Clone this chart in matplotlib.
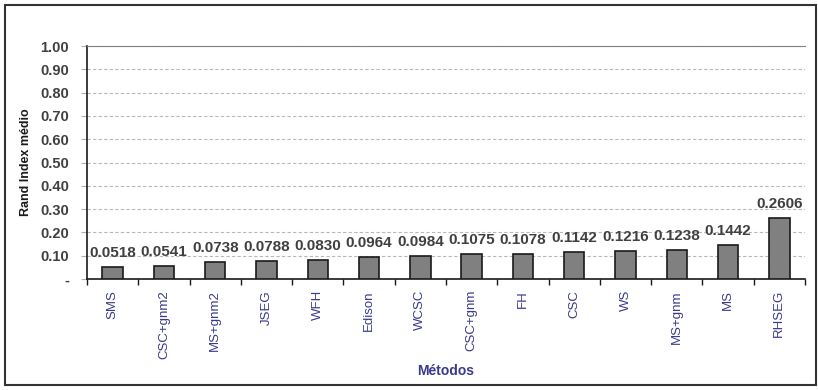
import matplotlib
matplotlib.use("Agg")
import matplotlib.pyplot as plt
from matplotlib.patches import Rectangle
from matplotlib.ticker import FixedLocator

# datos de la grafica
metodos = ['SMS', 'CSC+gnm2', 'MS+gnm2', 'JSEG', 'WFH', 'Edison', 'WCSC',
           'CSC+gnm', 'FH', 'CSC', 'WS', 'MS+gnm', 'MS', 'RHSEG']
rand_index = [0.0518, 0.0541, 0.0738, 0.0788, 0.0830, 0.0964, 0.0984,
              0.1075, 0.1078, 0.1142, 0.1216, 0.1238, 0.1442, 0.2606]
y_ticks = [0.0, 0.1, 0.2, 0.3, 0.4, 0.5, 0.6, 0.7, 0.8, 0.9, 1.0]
y_tick_labels = ['-', '0.10', '0.20', '0.30', '0.40', '0.50', '0.60',
                 '0.70', '0.80', '0.90', '1.00']

plt.rcParams['font.family'] = ['Liberation Sans', 'DejaVu Sans']

fig = plt.figure(figsize=(8.18, 3.9), dpi=100)
ax = fig.add_axes([87 / 818, 1 - 279 / 390, (805 - 87) / 818, (279 - 46) / 390])

# marco exterior
fig.patches.append(Rectangle((5 / 818, 5 / 390), 811 / 818, 380 / 390,
                             transform=fig.transFigure, fill=False,
                             edgecolor='#333333', linewidth=1.5))

x = list(range(len(metodos)))
barras = ax.bar(x, rand_index, width=0.4, color='#808080',
                edgecolor='#1a1a1a', linewidth=1.2, zorder=3)

for xi, v in zip(x, rand_index):
    ax.annotate(f"{v:.4f}", (xi, v), xytext=(0, 5), textcoords='offset points',
                ha='center', va='bottom', fontsize=11, fontweight='bold',
                color='#404040')

ax.set_xlim(-0.5, len(metodos) - 0.5)
ax.set_ylim(0, 1.0)
ax.set_yticks(y_ticks)
ax.set_yticklabels(y_tick_labels, fontsize=10.5, fontweight='bold', color='#404040')
ax.yaxis.grid(True, linestyle=(0, (3, 2)), color='#b8b8b8', linewidth=0.8, zorder=0)

ax.set_xticks(x)
ax.set_xticklabels(metodos, rotation=90, fontsize=9.5, color='#3a3a8c')
ax.tick_params(axis='x', which='major', length=0, pad=8)
ax.xaxis.set_minor_locator(FixedLocator([i - 0.5 for i in range(len(metodos) + 1)]))
ax.tick_params(axis='x', which='minor', length=4, width=1, color='#1a1a1a', direction='out')
ax.tick_params(axis='y', length=4, width=0.8, color='#b0b0b0', direction='out', pad=9)

ax.spines['left'].set_color('#1a1a1a')
ax.spines['left'].set_linewidth(1.2)
ax.spines['bottom'].set_color('#1a1a1a')
ax.spines['bottom'].set_linewidth(1.2)
ax.spines['top'].set_color('#808080')
ax.spines['right'].set_visible(False)

ax.set_ylabel('Rand Index médio', fontsize=9, fontweight='bold', color='#1a1a1a')
ax.yaxis.set_label_coords(-0.076, 0.5)
fig.text((87 + 805) / 2 / 818, 1 - 371 / 390, 'Métodos', ha='center', va='center',
         fontsize=10, fontweight='bold', color='#3a3a8c')

fig.savefig('out.png', dpi=100)
